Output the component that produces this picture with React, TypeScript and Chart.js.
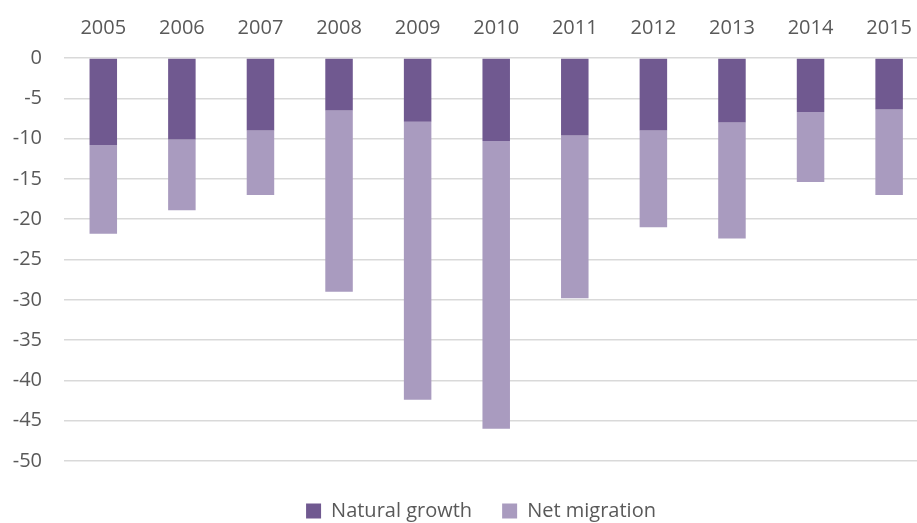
import React, { useEffect, useRef } from "react";
import { Chart, registerables } from "chart.js";

Chart.register(...registerables);

const years = ["2005", "2006", "2007", "2008", "2009", "2010", "2011", "2012", "2013", "2014", "2015"];
const naturalGrowth = [-10.8, -10.1, -9.0, -6.5, -7.9, -10.3, -9.6, -9.0, -8.0, -6.7, -6.4];
const netMigration = [-11.0, -8.8, -8.0, -22.5, -34.5, -35.7, -20.2, -12.0, -14.4, -8.7, -10.6];
const yMin = -50;
const yMax = 0;
const yStep = 5;

const DARK = "#705990";
const LIGHT = "#A99BBF";
const TEXT = "#595959";
const GRID = "#D9D9D9";
const FONT = "'Open Sans', sans-serif";

const legendShift = {
  id: "legendShift",
  beforeDraw(chart: any) {
    const lg = chart.legend;
    if (lg) {
      lg.left = 32;
      lg.right = chart.width;
    }
  },
};

export default function App() {
  const ref = useRef<HTMLCanvasElement | null>(null);

  useEffect(() => {
    if (!ref.current) return;
    const chart = new Chart(ref.current, {
      type: "bar",
      data: {
        labels: years,
        datasets: [
          {
            label: "Natural growth",
            data: naturalGrowth,
            backgroundColor: DARK,
            barPercentage: 0.35,
            categoryPercentage: 1,
          },
          {
            label: "Net migration",
            data: netMigration,
            backgroundColor: LIGHT,
            barPercentage: 0.35,
            categoryPercentage: 1,
          },
        ],
      },
      options: {
        responsive: false,
        animation: false,
        layout: { padding: { left: 0, right: 0, top: 0, bottom: 0 } },
        scales: {
          x: {
            position: "top",
            stacked: true,
            grid: { display: false, drawTicks: false },
            border: { display: false },
            ticks: { color: TEXT, font: { family: FONT, size: 20 }, padding: 18 },
            afterFit: (s: any) => {
              s.height = 58;
            },
          },
          x2: {
            position: "bottom",
            display: true,
            grid: { display: false, drawTicks: false },
            border: { display: false },
            ticks: { display: false },
            afterFit: (s: any) => {
              s.height = 10;
            },
          },
          y: {
            stacked: true,
            min: yMin,
            max: yMax,
            grid: { color: GRID, lineWidth: 1.5, drawTicks: false },
            border: { display: false },
            ticks: {
              stepSize: yStep,
              color: TEXT,
              font: { family: FONT, size: 20 },
              padding: 22,
            },
            afterFit: (s: any) => {
              s.width = 64;
            },
          },
        },
        plugins: {
          legend: {
            position: "bottom",
            labels: {
              color: TEXT,
              font: { family: FONT, size: 20 },
              boxWidth: 15,
              boxHeight: 15,
              padding: 30,
            },
          },
          tooltip: { enabled: false },
        },
      },
      plugins: [legendShift],
    });
    return () => chart.destroy();
  }, []);

  return (
    <div
      style={{
        position: "fixed",
        left: 0,
        top: 0,
        width: 917,
        height: 523,
        overflow: "hidden",
        background: "#fff",
      }}
    >
      <canvas ref={ref} width={930} height={531} style={{ width: 930, height: 531, display: "block" }} />
    </div>
  );
}
